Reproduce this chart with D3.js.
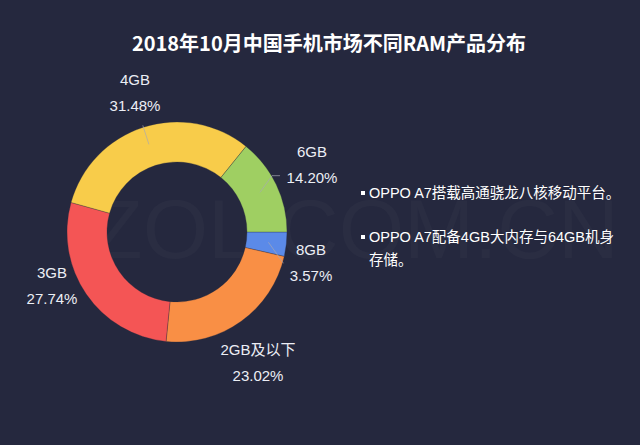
<!DOCTYPE html>
<html><head><meta charset="utf-8">
<script src="https://cdn.jsdelivr.net/npm/d3@7/dist/d3.min.js"></script>
<style>
html,body{margin:0;padding:0;background:#25283e;}
svg{display:block;}
</style></head>
<body>
<svg id="c" width="640" height="445"></svg>
<script>
const title = "2018年10月中国手机市场不同RAM产品分布";
const categories = ["8GB", "2GB及以下", "3GB", "4GB", "6GB"];
const values = [3.57, 23.02, 27.74, 31.48, 14.20];
const valueLabels = ["3.57%", "23.02%", "27.74%", "31.48%", "14.20%"];
const colors = ["#5b8ae8", "#f98f45", "#f45555", "#f8cc4a", "#9fcf62"];
const notes = [
  ["OPPO A7搭载高通骁龙八核移动平台。"],
  ["OPPO A7配备4GB大内存与64GB机身", "存储。"]
];

const svg = d3.select("#c");
const W = 640, H = 445;
svg.append("rect").attr("width", W).attr("height", H).attr("fill", "#25283e");

// faint watermark
svg.append("text").attr("x", 355).attr("y", 258).attr("text-anchor", "middle")
  .attr("font-family", "Liberation Sans, Arial, sans-serif").attr("font-size", 84)
  .attr("fill", "#ffffff").attr("fill-opacity", 0.022)
  .text("ZOL.COM.CN");

svg.append("text").attr("x", 329).attr("y", 51).attr("text-anchor", "middle")
  .attr("font-family", "Noto Sans CJK SC, sans-serif").attr("font-size", 20)
  .attr("font-weight", "bold").attr("fill", "#ffffff").text(title);

const cx = 177, cy = 232, R = 110, r = 70;
const g = svg.append("g").attr("transform", `translate(${cx},${cy})`);
const pie = d3.pie().sort(null).value(d => d)
  .startAngle(Math.PI / 2).endAngle(Math.PI / 2 + 2 * Math.PI);
const arcs = pie(values);
const arc = d3.arc().innerRadius(r).outerRadius(R);
g.selectAll("path.s").data(arcs).join("path").attr("class", "s")
  .attr("d", arc).attr("fill", (d, i) => colors[i])
  .attr("stroke", "#25283e").attr("stroke-width", 0.3);

// leader lines (only visible for some slices in the reference)
const lineIn = d3.arc().innerRadius(R - 18).outerRadius(R - 18);
const lineOut = d3.arc().innerRadius(R + 2).outerRadius(R + 2);
const showLine = [true, false, false, true, true];
const labelPos = [
  {x: 311, y: 255},
  {x: 258, y: 355},
  {x: 52, y: 278},
  {x: 135, y: 85},
  {x: 312, y: 157}
];
arcs.forEach((d, i) => {
  if (showLine[i]) {
    const p1 = lineIn.centroid(d);
    let pts;
    if (i === 0) {
      pts = [p1, [p1[0] + 15, p1[1] + 21]];
    } else if (i === 4) {
      const p2 = lineOut.centroid(d);
      pts = [p1, [p2[0] - 6, p2[1] - 8], [p2[0] + 2, p2[1] - 8]];
    } else {
      pts = [p1, lineOut.centroid(d)];
    }
    g.append("path").attr("d", d3.line()(pts)).attr("fill", "none")
      .attr("stroke", "#a8a8b4").attr("stroke-width", 0.8).attr("stroke-opacity", 0.85);
  }
  const lp = labelPos[i];
  svg.append("text").attr("x", lp.x).attr("y", lp.y).attr("text-anchor", "middle")
    .attr("font-family", "Liberation Sans, Arial, Noto Sans CJK SC, sans-serif")
    .attr("font-size", 15).attr("fill", "#eceef5").text(categories[i]);
  svg.append("text").attr("x", lp.x).attr("y", lp.y + 26).attr("text-anchor", "middle")
    .attr("font-family", "Liberation Sans, Arial, sans-serif")
    .attr("font-size", 15).attr("fill", "#eceef5").text(valueLabels[i]);
});

// notes on the right
const nx = 361;
const ny = [198, 242];
notes.forEach((lines, k) => {
  svg.append("rect").attr("x", nx).attr("y", ny[k] - 7).attr("width", 4).attr("height", 4)
    .attr("fill", "#ffffff");
  lines.forEach((t, j) => {
    svg.append("text").attr("x", nx + 8).attr("y", ny[k] + j * 23)
      .attr("font-family", "Liberation Sans, Arial, Noto Sans CJK SC, sans-serif")
      .attr("font-size", 14.5).attr("fill", "#ffffff").text(t);
  });
});
</script>
</body></html>
